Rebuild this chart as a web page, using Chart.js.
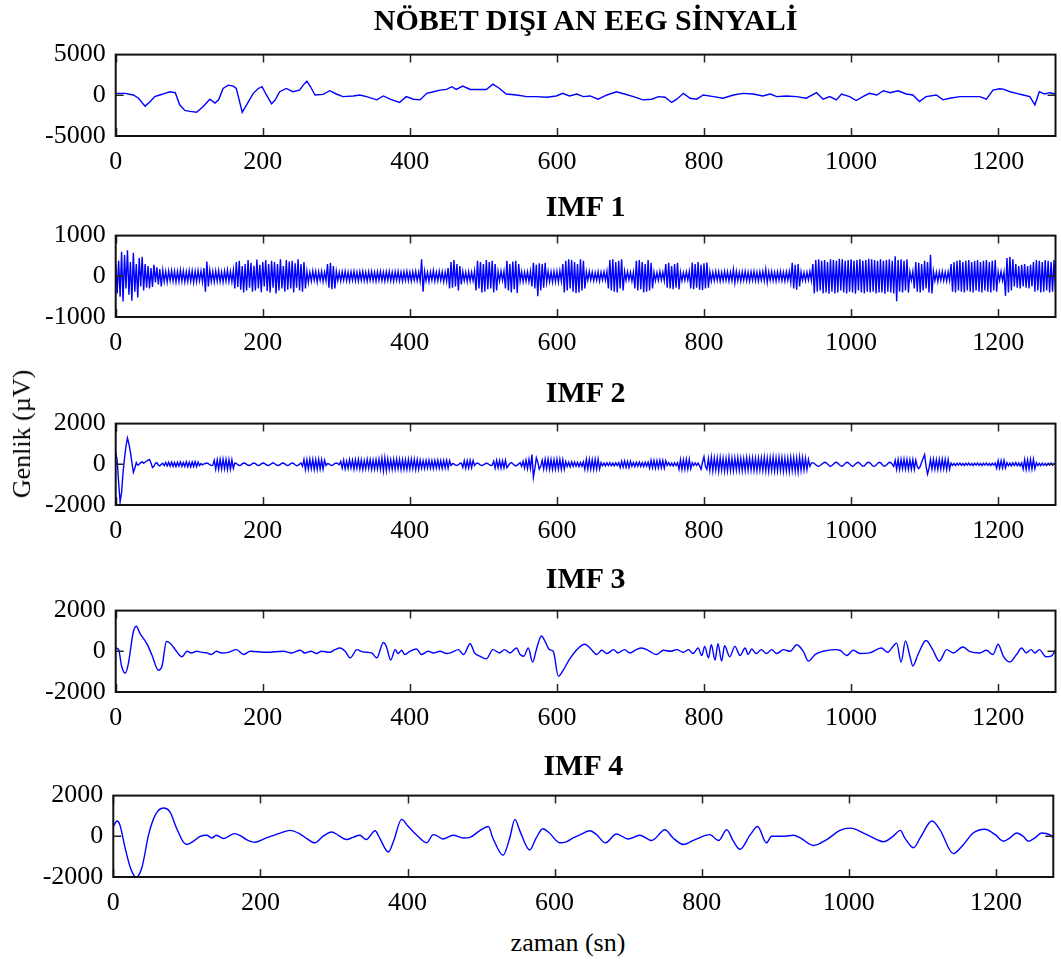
<!DOCTYPE html>
<html lang="tr">
<head>
<meta charset="utf-8">
<title>Nöbet dışı EEG ve IMF</title>
<script src="https://cdn.jsdelivr.net/npm/chart.js@4.4.1/dist/chart.umd.min.js"></script>
<style>
  html, body { margin: 0; padding: 0; background: #fff; }
  #fig { position: relative; width: 1061px; height: 965px; overflow: hidden;
         font-family: "Liberation Serif", "Times New Roman", serif; color: #000; }
  #fig canvas { position: absolute; left: 0; }
  .ttl { position: absolute; width: 700px; margin-left: -350px; text-align: center;
         font-weight: bold; font-size: 30px; line-height: 30px; white-space: nowrap; }
  .lbl { position: absolute; font-size: 26px; line-height: 26px; white-space: nowrap; }
</style>
</head>
<body>
<div id="fig"></div>
<script>
// zaman ekseni (sn)
const X_MAX = 1278;
const xTicks = [0, 200, 400, 600, 800, 1000, 1200];
const DT = 2; // IMF 1 / IMF 2 dizilerinin örnek aralığı

const titles = ["NÖBET DIŞI AN EEG SİNYALİ", "IMF 1", "IMF 2", "IMF 3", "IMF 4"];
const yLimits = [5000, 1000, 2000, 2000, 2000];

// ham EEG sinyali
const eegT = [0, 13, 24, 31, 40, 47, 53, 60, 67, 74,
  81, 87, 94, 101, 110, 119, 128, 135, 140, 146,
  153, 160, 164, 169, 172, 178, 187, 194, 199, 205,
  212, 217, 223, 232, 241, 250, 255, 260, 265, 271,
  282, 291, 300, 309, 323, 332, 341, 355, 364, 373,
  386, 395, 405, 414, 423, 432, 441, 450, 457, 463,
  472, 482, 491, 504, 513, 522, 531, 545, 559, 572,
  586, 599, 608, 617, 627, 636, 645, 656, 668, 681,
  692, 704, 717, 729, 738, 747, 756, 763, 772, 781,
  790, 799, 813, 826, 840, 853, 867, 880, 890, 899,
  912, 926, 939, 953, 962, 971, 980, 987, 998, 1007,
  1016, 1025, 1035, 1044, 1053, 1064, 1075, 1084, 1093, 1102,
  1116, 1125, 1134, 1148, 1161, 1175, 1184, 1193, 1202, 1207,
  1216, 1225, 1234, 1243, 1250, 1256, 1263, 1270, 1278];
const eegV = [240, 240, 40, -360, -1330, -760, -160, 40, 240, 440,
  320, -1170, -1850, -1970, -2090, -1370, -480, -960, -560, 840,
  1250, 1130, 840, -960, -2090, -1170, 240, 840, 1050, 40,
  -1050, -560, 440, 840, 440, 640, 1250, 1730, 1050, 40,
  120, 560, 160, -160, -80, 40, -160, -560, -80, -480,
  -880, -160, -480, -560, 240, 440, 640, 720, 1050, 720,
  1130, 720, 720, 720, 1370, 840, 160, 40, -160, -160,
  -240, -80, 240, -80, 160, -160, -80, -480, 40, 440,
  160, -160, -560, -480, -160, -240, -880, -480, 240, -360,
  -480, 40, -160, -360, 40, 240, 160, -80, 160, -160,
  -80, -160, -360, 320, -480, -160, -560, 160, -160, -640,
  -160, 240, 40, 560, 320, 560, 160, 40, -760, -160,
  40, -560, -360, -160, -160, -160, -480, 640, 800, 760,
  440, 240, 40, -160, -1170, 440, 160, 320, 160];

// IMF 1 (her DT saniyede bir değer)
const imf1 = [
  300,-420,380,-500,600,-620,520,-300,640,-450,350,-600,580,-380,300,-520,450,-250,480,-350,
  300,-280,250,-300,200,-260,280,-150,220,-200,180,-250,150,-130,120,-140,130,-110,140,-120,
  130,-140,120,-130,150,-120,130,-140,110,-130,140,-120,130,-150,120,-130,140,-110,130,-140,
  200,-380,360,-250,150,-130,120,-140,130,-120,140,-130,110,-140,130,-120,150,-130,120,-140,
  150,-300,350,-260,380,-330,250,-400,300,-350,400,-280,330,-380,260,-350,410,-300,280,-390,
  350,-250,400,-360,300,-400,380,-280,350,-420,300,-350,420,-300,250,-380,400,-330,360,-300,
  380,-400,320,-280,420,-350,300,-380,350,-300,120,-150,100,-120,130,-100,120,-140,110,-100,
  120,-130,100,-110,300,-280,330,-320,250,-300,120,-110,100,-120,110,-100,120,-110,100,-120,
  110,-100,120,-110,100,-120,110,-100,120,-110,100,-120,110,-100,120,-110,100,-120,110,-100,
  120,-110,100,-120,110,-100,120,-110,100,-120,110,-100,120,-110,100,-120,110,-100,120,-110,
  100,-120,110,-100,120,-110,100,-120,420,-380,120,-110,100,-130,110,-100,140,-120,100,-110,
  120,-100,110,-130,100,-120,200,-300,350,-280,400,-250,300,-350,250,-200,120,-110,100,-130,
  110,-120,100,-110,130,-350,380,-300,350,-400,300,-380,400,-320,350,-300,380,-400,300,-350,
  120,-110,130,-100,120,-300,380,-350,300,-400,360,-320,380,-410,300,-120,110,-130,100,-120,
  110,-130,120,-250,330,-300,280,-490,320,-350,300,-280,330,-150,120,-130,110,-140,120,-130,
  120,-140,130,-120,300,-400,380,-350,420,-300,400,-380,350,-410,300,-400,420,-350,380,-300,
  110,-100,120,-90,100,-110,90,-100,110,-120,100,-90,110,-100,120,-300,400,-350,420,-380,
  350,-400,380,-300,420,-350,120,-100,110,-90,100,-120,100,-300,380,-350,400,-320,350,-400,
  300,-380,400,-350,330,-300,100,-110,90,-100,120,-90,100,-110,300,-280,330,-300,250,-320,
  300,-280,330,-320,100,-110,90,-100,110,-90,120,-300,340,-320,300,-280,350,-330,280,-340,
  320,-300,340,-280,110,-120,100,-110,120,-100,110,-120,100,-110,120,-100,110,-120,100,-110,
  170,-160,120,-110,100,-120,110,-100,120,-110,100,-120,110,-100,120,-110,100,-120,110,-100,
  120,-110,170,-150,110,-100,120,-110,100,-120,110,-100,120,-110,100,-120,110,-100,120,-150,
  330,-300,280,-330,300,-250,110,-100,90,-110,100,-90,120,-100,300,-420,400,-380,420,-350,
  380,-420,400,-400,350,-430,420,-380,400,-420,380,-400,430,-350,420,-400,380,-420,400,-380,
  420,-400,380,-430,400,-350,420,-400,380,-420,400,-380,430,-400,420,-380,400,-420,380,-400,
  420,-400,380,-430,400,-380,420,-400,380,-420,490,-610,400,-380,420,-400,380,-350,420,-400,
  110,-100,120,-300,350,-380,330,-400,300,-350,380,-300,350,-400,530,-420,120,-110,100,-130,
  110,-100,120,-110,100,-120,110,-100,300,-380,350,-400,380,-350,400,-380,350,-400,380,-350,
  400,-380,350,-400,380,-350,400,-380,350,-400,380,-350,400,-380,350,-400,380,-350,400,-380,
  110,-100,120,-110,100,-480,450,-400,480,-350,420,-250,300,-280,250,-300,280,-250,300,-280,
  250,-300,280,-250,350,-380,400,-350,380,-400,350,-380,400,-350,380,-400,350,-380,400,-350];

// IMF 2 (her DT saniyede bir değer)
const imf2 = [
  600,200,-900,-1850,-1400,-400,300,900,1290,1000,600,100,-400,-200,80,-50,0,80,120,60,
  100,160,200,240,60,-160,-100,50,80,-40,-80,0,50,-60,90,-80,100,-90,110,-100,
  90,-110,100,-90,120,-100,90,-110,130,-120,110,-130,120,-110,130,-120,100,-60,40,-30,
  20,40,60,30,-20,-60,-40,200,-240,220,-250,240,-230,250,-220,240,-250,230,-240,220,
  -200,60,40,-20,-60,-50,20,60,50,0,-50,-60,-20,40,60,30,-30,-60,-40,20,
  60,50,0,-50,-60,-20,40,70,40,-20,-60,-50,0,50,60,20,-40,-60,-30,30,
  60,40,-20,-70,-50,10,60,-100,240,-250,230,-240,250,-220,240,-250,230,-240,250,-230,
  220,-240,200,-60,40,20,-40,-60,-20,40,60,30,-20,150,-180,200,-220,160,-200,230,
  -180,200,-240,220,-200,240,-230,210,-250,180,-220,240,-200,230,-250,200,-240,220,-230,250,
  -240,300,-320,320,-300,260,-240,220,-250,240,-230,250,-220,240,-250,230,-240,220,-250,240,
  -230,250,-220,240,-250,230,-240,200,-190,180,-200,190,-180,200,-190,180,-200,190,-180,200,
  -190,180,-200,190,-180,200,-190,180,-60,40,20,-40,-60,-20,40,60,-150,180,-190,170,
  -180,190,-170,180,-60,40,60,20,-40,-60,-30,20,50,40,-20,-60,-40,150,-180,190,
  -170,180,-190,170,-180,190,-170,-60,40,80,30,-40,-80,-40,20,80,-100,150,-180,200,
  -220,240,-200,480,-640,-200,320,100,-240,-100,200,-230,240,-220,250,-240,230,-250,220,-240,
  250,-230,240,-250,220,-240,130,-110,100,-130,120,-100,110,-90,100,-110,90,-100,120,-240,
  240,-230,250,-240,220,-250,240,-230,250,-220,80,-70,60,-80,70,-60,80,-70,60,-80,
  70,-60,80,-160,150,-140,160,-150,140,-160,150,-100,90,-110,100,-90,110,-100,90,-110,
  100,-90,110,-180,190,-170,180,-190,170,-180,190,-170,180,-190,170,-60,80,-70,60,-80,
  70,-60,80,-240,230,-250,220,-240,250,-230,240,-220,80,-60,70,-50,60,-80,-240,100,
  370,-100,-250,280,-300,340,-320,300,-280,310,-340,320,-290,300,-330,280,-310,340,-300,290,
  -320,300,-280,320,-300,290,-310,280,-300,320,-290,300,-280,310,-300,290,-320,300,-280,310,
  -300,340,-320,300,-340,320,-300,350,-330,300,-320,340,-300,320,-340,300,-320,290,-350,330,
  -300,320,-340,300,-370,350,-300,320,-280,300,-260,240,-100,60,80,40,-20,-80,-100,-60,
  0,60,100,80,20,-60,-100,-60,0,80,100,60,-20,-80,-100,-40,40,100,80,20,
  -60,-100,-60,20,80,100,40,-40,-100,-80,0,80,100,60,-20,-90,-100,-40,40,100,
  80,0,-80,-100,-40,40,100,80,0,-100,200,-240,230,-250,240,-220,250,-230,240,-250,
  220,-240,230,-250,200,-120,-210,-100,100,300,480,-100,-480,-200,240,-230,250,-240,220,-250,
  240,-230,250,-220,240,-250,230,-240,60,-50,40,-60,50,-40,60,-50,40,-60,50,-40,
  60,-50,40,-60,50,-40,60,-50,40,-60,50,-40,60,-50,40,-60,50,-40,60,-190,
  180,-190,170,-180,190,-170,80,-70,60,-80,70,-60,80,-70,60,-80,70,-240,230,-250,
  220,-240,250,-230,240,-220,80,-60,50,-70,60,-50,40,-60,50,-40,60,-50,40,-20];

// IMF 3
const imf3T = [0, 4, 8, 13, 17, 24, 28, 33, 42, 49,
  58, 63, 69, 74, 81, 90, 97, 103, 110, 117,
  124, 130, 137, 144, 153, 164, 174, 183, 205, 228,
  239, 251, 257, 266, 273, 280, 291, 298, 305, 312,
  319, 328, 334, 341, 348, 355, 364, 368, 374, 380,
  384, 389, 393, 400, 409, 416, 425, 432, 441, 450,
  457, 466, 473, 482, 488, 495, 504, 513, 522, 529,
  536, 545, 550, 555, 561, 567, 572, 579, 584, 590,
  595, 602, 608, 617, 627, 638, 647, 654, 661, 668,
  677, 683, 692, 699, 708, 715, 724, 735, 745, 754,
  763, 772, 779, 785, 792, 797, 801, 806, 810, 815,
  819, 824, 828, 835, 842, 849, 856, 860, 865, 871,
  878, 885, 892, 899, 908, 917, 926, 935, 942, 951,
  962, 978, 985, 994, 1003, 1012, 1025, 1041, 1050, 1057,
  1062, 1068, 1074, 1080, 1084, 1091, 1102, 1111, 1120, 1130,
  1139, 1152, 1161, 1175, 1184, 1193, 1200, 1207, 1216, 1225,
  1232, 1238, 1245, 1250, 1256, 1265, 1272, 1278];
const imf3V = [160, 80, -720, -1070, -640, 960, 1230, 880, 400, -160,
  -930, -720, 480, 400, 80, -270, 0, -80, 0, -50,
  -80, -160, 0, -80, -50, 80, -160, 0, -50, 0,
  -80, 50, -80, 0, -110, 0, -50, 80, 160, 0,
  -320, 80, 0, -50, -80, -320, 430, 240, -430, 80,
  -110, 50, -160, 0, 110, -160, 0, -80, 0, -110,
  -50, 80, -160, 370, -80, -240, -370, 80, -80, 80,
  -80, 160, -160, -240, 160, -530, 80, 750, 480, 80,
  0, -1230, -960, -400, 80, 350, 80, -160, 50, -110,
  80, -80, 80, -80, 80, 160, 50, -160, 50, 0,
  80, -50, 80, -110, 160, -210, 240, -320, 320, -430,
  370, -480, 270, -270, 240, -210, 160, -160, 110, -110,
  80, -110, 80, -110, 80, 0, 320, 0, -480, -160,
  0, 80, 50, -210, 50, -110, -80, 160, -50, 240,
  400, -530, 510, -240, -720, -160, 530, 80, -480, 80,
  -80, 210, 0, -80, 50, -160, 350, -240, -530, -160,
  160, -80, 80, -80, 80, -270, -240, 50];

// IMF 4
const imf4T = [0, 5, 9, 16, 23, 31, 39, 48, 57, 68,
  77, 86, 95, 100, 109, 118, 127, 134, 140, 150,
  159, 165, 172, 181, 193, 208, 227, 240, 254, 263,
  274, 285, 297, 306, 317, 326, 335, 344, 356, 362,
  374, 381, 392, 401, 412, 426, 435, 439, 448, 462,
  476, 485, 498, 510, 516, 530, 539, 546, 553, 566,
  575, 584, 593, 607, 616, 625, 635, 648, 657, 669,
  684, 700, 716, 732, 750, 761, 775, 791, 811, 823,
  834, 843, 852, 866, 876, 888, 895, 911, 925, 934,
  952, 970, 988, 1002, 1020, 1038, 1047, 1060, 1070, 1076,
  1088, 1097, 1113, 1124, 1142, 1156, 1169, 1185, 1199, 1210,
  1219, 1228, 1237, 1244, 1253, 1262, 1273, 1278];
const imf4V = [480, 750, 560, -560, -1520, -2020, -1520, 80, 1040, 1390,
  1200, 400, -270, -400, -240, 0, 50, -80, 50, -110,
  50, 130, 50, -160, -290, -80, 160, 290, 110, -110,
  -320, 0, 210, 50, -160, -50, 50, -160, 270, -80,
  -770, -240, 830, 480, 80, -320, 80, 50, -130, 50,
  -80, -50, 270, 480, -80, -930, -80, 830, 240, -670,
  -80, 370, 160, -320, -270, -80, 80, 270, 80, -320,
  110, -130, 50, -210, 320, -80, -400, -160, 80, -210,
  320, -240, -640, 80, 480, -320, 0, 0, 50, -80,
  -450, -160, 290, 400, 160, -160, -270, 0, 290, -80,
  -560, -80, 750, 320, -850, -400, 160, 350, 80, -240,
  -80, 160, 0, -240, -80, 160, 80, -80];

// yerleşim (piksel): her panelin çizim alanı
const PLOT_H = 83;
const PAD_TOP = 24;
const AXIS_H = 50;
const TICK = 8;
const panels = [
  { top: 52.5, left: 115.7, right: 1055.5, titleY: 20 },
  { top: 234, left: 115.7, right: 1055.5, titleY: 205.5 },
  { top: 421.5, left: 115.7, right: 1055.5, titleY: 392 },
  { top: 608.5, left: 115.7, right: 1055.5, titleY: 578 },
  { top: 794, left: 113.3, right: 1053.3, titleY: 765 },
];

const series = [
  { pts: eegT.map((t, i) => ({ x: t, y: eegV[i] })), smooth: false },
  { pts: imf1.map((v, i) => ({ x: i * DT, y: v })), smooth: false },
  { pts: imf2.map((v, i) => ({ x: i * DT, y: v })), smooth: false },
  { pts: imf3T.map((t, i) => ({ x: t, y: imf3V[i] })), smooth: true },
  { pts: imf4T.map((t, i) => ({ x: t, y: imf4V[i] })), smooth: true },
];

const tickFont = { family: "'Liberation Serif', 'Times New Roman', serif", size: 26 };

// çerçeve ve içe dönük tik işaretleri
const framePlugin = {
  id: "frame",
  afterDatasetsDraw(chart) {
    const { ctx, chartArea: a, scales } = chart;
    const sx = scales.x, sy = scales.y;
    ctx.save();
    ctx.strokeStyle = "#262626";
    ctx.lineWidth = 1.5;
    ctx.beginPath();
    xTicks.forEach((v) => {
      const px = Math.round(sx.getPixelForValue(v)) + 0.5;
      ctx.moveTo(px, a.bottom);
      ctx.lineTo(px, a.bottom - TICK);
      ctx.moveTo(px, a.top);
      ctx.lineTo(px, a.top + TICK);
    });
    const py = sy.getPixelForValue(0);
    ctx.moveTo(a.left, py);
    ctx.lineTo(a.left + TICK, py);
    ctx.moveTo(a.right, py);
    ctx.lineTo(a.right - TICK, py);
    ctx.stroke();
    ctx.strokeStyle = "#111";
    ctx.lineWidth = 2;
    ctx.strokeRect(a.left, a.top, a.right - a.left, a.bottom - a.top);
    ctx.restore();
  },
};

function addText(cls, text, css) {
  const d = document.createElement("div");
  d.className = cls;
  d.textContent = text;
  Object.assign(d.style, css);
  document.getElementById("fig").appendChild(d);
}

function makePanel(k) {
  const p = panels[k];
  const lim = yLimits[k];
  const canvas = document.createElement("canvas");
  canvas.width = 1061;
  canvas.height = PAD_TOP + PLOT_H + AXIS_H;
  canvas.style.top = p.top - PAD_TOP + "px";
  document.getElementById("fig").appendChild(canvas);

  new Chart(canvas.getContext("2d"), {
    type: "line",
    data: {
      datasets: [
        {
          data: series[k].pts,
          borderColor: "#0000ff",
          borderWidth: 1.4,
          pointRadius: 0,
          fill: false,
          tension: series[k].smooth ? 0.4 : 0,
          cubicInterpolationMode: series[k].smooth ? "monotone" : "default",
        },
      ],
    },
    options: {
      responsive: false,
      animation: false,
      parsing: false,
      events: [],
      layout: { padding: { top: PAD_TOP, right: 1061 - p.right, left: 0, bottom: 0 } },
      plugins: { legend: { display: false }, tooltip: { enabled: false } },
      scales: {
        x: {
          type: "linear",
          min: 0,
          max: X_MAX,
          afterBuildTicks: (s) => { s.ticks = xTicks.map((v) => ({ value: v })); },
          afterFit: (s) => { s.height = AXIS_H; },
          grid: { display: false, drawTicks: false },
          border: { display: false },
          ticks: { font: tickFont, color: "#000", padding: 11, maxRotation: 0, autoSkip: false,
                   callback: (v) => String(v) },
        },
        y: {
          type: "linear",
          min: -lim,
          max: lim,
          afterBuildTicks: (s) => { s.ticks = [-lim, 0, lim].map((v) => ({ value: v })); },
          afterFit: (s) => { s.width = p.left; },
          grid: { display: false, drawTicks: false },
          border: { display: false },
          ticks: { font: tickFont, color: "#000", padding: 10, callback: (v) => String(v) },
        },
      },
    },
    plugins: [framePlugin],
  });

  addText("ttl", titles[k], { left: (p.left + p.right) / 2 + "px", top: p.titleY - 15 + "px" });
}

for (let k = 0; k < panels.length; k++) makePanel(k);

addText("lbl", "zaman (sn)", { left: "568px", top: "930px", transform: "translateX(-50%)" });
addText("lbl", "Genlik (µV)", { left: "22px", top: "434px", transform: "translate(-50%, -50%) rotate(-90deg)" });
</script>
</body>
</html>
